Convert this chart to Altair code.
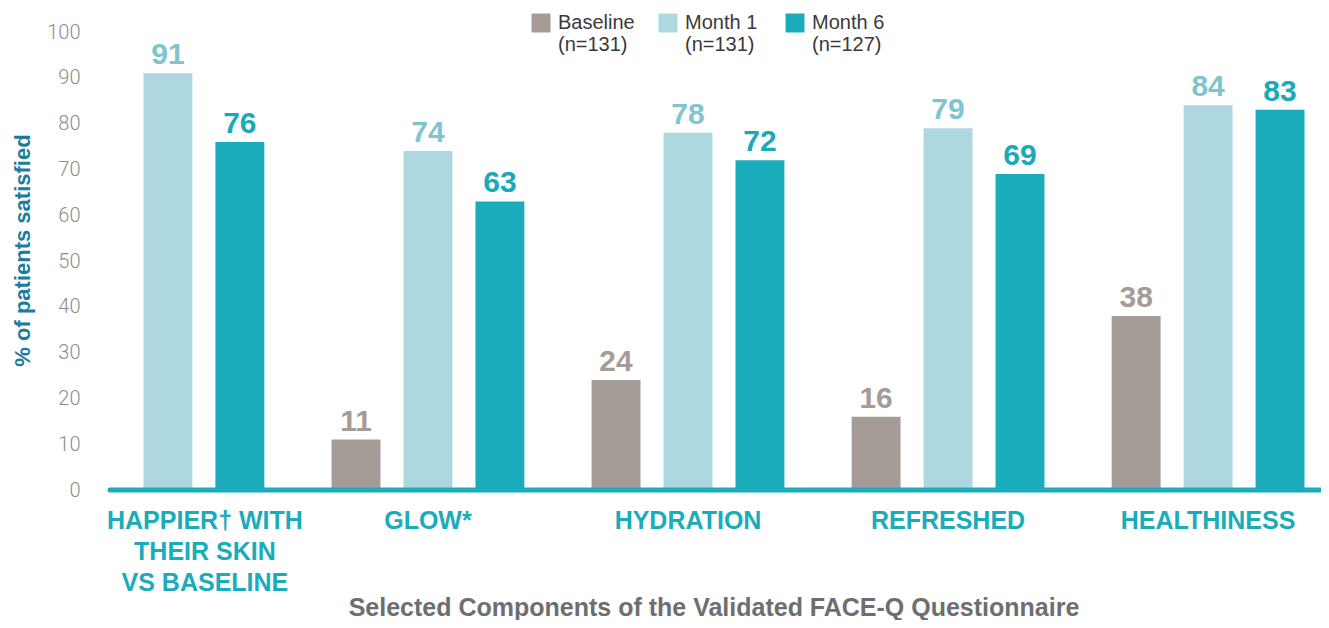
import altair as alt
import pandas as pd

categories = ["HAPPIER", "GLOW", "HYDRATION", "REFRESHED", "HEALTHINESS"]
category_labels = ["HAPPIER\u2020 WITH\nTHEIR SKIN\nVS BASELINE", "GLOW*", "HYDRATION", "REFRESHED", "HEALTHINESS"]
series = ["Baseline", "Month 1", "Month 6"]
series_n = ["(n=131)", "(n=131)", "(n=127)"]
baseline = [None, 11, 24, 16, 38]
month1 = [91, 74, 78, 79, 84]
month6 = [76, 63, 72, 69, 83]

bar_colors = ["#a59c97", "#aed8df", "#1aacba"]
label_colors = ["#a59c97", "#7fc5cf", "#1aa9b8"]

rows = []
for s, vals in zip(series, [baseline, month1, month6]):
    for c, v in zip(categories, vals):
        if v is not None:
            rows.append({"cat": c, "series": s, "value": v})
df = pd.DataFrame(rows)
labels_df = pd.DataFrame({"cat": categories, "text": category_labels})

W, H = 1256, 458
FONT = "Liberation Sans"

legend_expr = " : ".join(
    f"datum.label == '{s}' ? ['{s}', '{n}']" for s, n in zip(series[:-1], series_n[:-1])
) + f" : ['{series[-1]}', '{series_n[-1]}']"

x_enc = alt.X("cat:N", sort=categories,
              scale=alt.Scale(paddingInner=0.17, paddingOuter=0),
              axis=None)
xoff = alt.XOffset("series:N", sort=series,
                   scale=alt.Scale(paddingInner=0.32, paddingOuter=0.16))
y_enc = alt.Y("value:Q", scale=alt.Scale(domain=[0, 100], nice=False),
              axis=alt.Axis(values=list(range(0, 101, 10)), domain=False, ticks=False, grid=False,
                            offset=-24, labelPadding=4, labelFontSize=20, labelColor="#8c8c8c",
                            labelFont="Roboto", labelFontWeight=300,
                            title="% of patients satisfied", titleFont=FONT, titleFontSize=22,
                            titleFontWeight="bold", titleColor="#1b7c9c",
                            titleX=-62, titleY=218, titleBaseline="middle", titleAngle=-90))

color_enc = alt.Color("series:N", sort=series,
                      scale=alt.Scale(domain=series, range=bar_colors),
                      legend=alt.Legend(title=None, orient="none", legendX=471, legendY=-19,
                                        direction="horizontal", symbolType="square", symbolSize=361,
                                        symbolStrokeWidth=0, labelFont=FONT, gridAlign="all",
                                        labelFontSize=20, labelColor="#3a3a3a", labelOffset=7,
                                        columnPadding=23, labelBaseline="middle",
                                        labelLimit=200, labelExpr=legend_expr))

bars = alt.Chart(df).mark_bar(opacity=1).encode(
    x=x_enc, xOffset=xoff, y=y_enc, color=color_enc)

values = alt.Chart(df).mark_text(font=FONT, fontSize=30, fontWeight="bold", baseline="alphabetic", dy=-9).encode(
    x=x_enc, xOffset=xoff, y=alt.Y("value:Q"), text=alt.Text("value:Q"),
    color=alt.Color("series:N", sort=series, scale=alt.Scale(domain=series, range=label_colors), legend=None))

axis_line = alt.Chart(pd.DataFrame({"v": [0]})).mark_rule(color="#1aacba", strokeWidth=5, strokeCap="round").encode(
    y=alt.Y("v:Q"), x=alt.value(50), x2=alt.value(W + 10))

cat_text_first = alt.Chart(labels_df).transform_filter(alt.datum.cat == "HAPPIER").mark_text(
    font=FONT, fontSize=25, fontWeight="bold", color="#1aacba", lineBreak="\n", lineHeight=31,
    baseline="middle", dx=37).encode(x=x_enc, y=alt.value(H + 31), text="text:N")
cat_text_rest = alt.Chart(labels_df).transform_filter(alt.datum.cat != "HAPPIER").mark_text(
    font=FONT, fontSize=25, fontWeight="bold", color="#1aacba", lineBreak="\n", lineHeight=31,
    baseline="middle").encode(x=x_enc, y=alt.value(H + 31), text="text:N")

xtitle = alt.Chart(pd.DataFrame({"t": ["Selected Components of the Validated FACE-Q Questionnaire"]})).mark_text(
    font=FONT, fontSize=25, fontWeight="bold", color="#6d6e71", baseline="middle").encode(
    x=alt.value(654), y=alt.value(576), text="t:N")

chart = alt.layer(bars, values, axis_line, cat_text_first, cat_text_rest, xtitle).resolve_scale(
    color="independent").properties(
    width=W, height=H,
    autosize=alt.AutoSizeParams(type="none"),
    padding={"left": 52, "top": 24, "right": 5, "bottom": 130}
).configure_view(stroke=None)

chart.save("out.html", embed_options={"renderer": "svg", "actions": False})
